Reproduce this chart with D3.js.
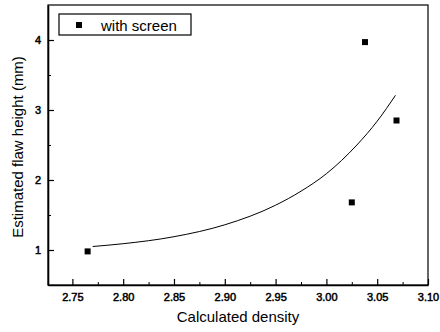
<!DOCTYPE html>
<html>
<head>
<meta charset="utf-8">
<script src="https://cdn.jsdelivr.net/npm/d3@7"></script>
<style>
  body { margin: 0; background: #fff; }
  svg { font-family: "Liberation Sans", Arial, sans-serif; }
</style>
</head>
<body>
<svg id="drawing_region"></svg>
<script>
// measured points
const density = [2.765, 3.025, 3.038, 3.069];
const flaw_height = [0.98, 1.68, 3.97, 2.85];

// fitted curve
const fit_x = [2.77, 2.80, 2.85, 2.90, 2.95, 2.975, 3.00, 3.015, 3.03, 3.05, 3.068];
const fit_y = [1.05, 1.09, 1.19, 1.36, 1.64, 1.84, 2.09, 2.28, 2.50, 2.84, 3.21];

const x_ticks = [2.75, 2.80, 2.85, 2.90, 2.95, 3.00, 3.05, 3.10];
const y_ticks = [1, 2, 3, 4];
const legend_label = 'with screen';

const config = {
  width: 440,
  height: 332,
  margin: {top: 5, right: 12, bottom: 47, left: 48}
};

const svg = d3.select('#drawing_region')
  .attr('width', config.width)
  .attr('height', config.height);

const chart_width = config.width - config.margin.left - config.margin.right;
const chart_height = config.height - config.margin.top - config.margin.bottom;

const chart = svg.append('g')
  .attr('transform', `translate(${config.margin.left}, ${config.margin.top})`);

const x_scale = d3.scaleLinear()
  .domain([2.726, 3.10])
  .range([0, chart_width]);

const y_scale = d3.scaleLinear()
  .domain([0.5, 4.5])
  .range([chart_height, 0]);

// minor ticks
const x_minor = d3.range(2.775, 3.1, 0.05);
const y_minor = [0.5, 1.5, 2.5, 3.5];

chart.append('g')
  .attr('transform', `translate(0, ${chart_height})`)
  .call(d3.axisBottom(x_scale).tickValues(x_minor).tickSize(-3).tickFormat(''))
  .call(g => g.select('.domain').remove());

chart.append('g')
  .call(d3.axisLeft(y_scale).tickValues(y_minor).tickSize(-3).tickFormat(''))
  .call(g => g.select('.domain').remove());

const x_axis = d3.axisBottom(x_scale)
  .tickValues(x_ticks).tickFormat(d3.format('.2f'))
  .tickSize(-6).tickSizeOuter(0).tickPadding(8);

const y_axis = d3.axisLeft(y_scale)
  .tickValues(y_ticks).tickFormat(d3.format('d'))
  .tickSize(-6).tickSizeOuter(0).tickPadding(7);

const xg = chart.append('g')
  .attr('transform', `translate(0, ${chart_height})`)
  .call(x_axis);

const yg = chart.append('g')
  .call(y_axis);

[xg, yg].forEach(g => {
  g.selectAll('text')
    .attr('font-size', 11)
    .attr('fill', '#000')
    .attr('stroke', '#000')
    .attr('stroke-width', 0.5)
    .attr('font-family', '"Liberation Sans", Arial, sans-serif');
  g.selectAll('line').attr('stroke', '#000').attr('stroke-width', 1.2);
  g.select('.domain').attr('stroke', '#000').attr('stroke-width', 1.6);
});

// frame
chart.append('rect')
  .attr('x', 0).attr('y', 0)
  .attr('width', chart_width).attr('height', chart_height)
  .attr('fill', 'none')
  .attr('stroke', '#000')
  .attr('stroke-width', 1.2);

// fitted curve
const fit = fit_x.map((x, i) => ({x: x, y: fit_y[i]}));
const line = d3.line()
  .x(d => x_scale(d.x))
  .y(d => y_scale(d.y))
  .curve(d3.curveMonotoneX);

chart.append('path')
  .attr('d', line(fit))
  .attr('fill', 'none')
  .attr('stroke', '#000')
  .attr('stroke-width', 1);

// points
const points = density.map((x, i) => ({x: x, y: flaw_height[i]}));
chart.selectAll('.pt')
  .data(points)
  .enter()
  .append('rect')
  .attr('class', 'pt')
  .attr('x', d => x_scale(d.x) - 3)
  .attr('y', d => y_scale(d.y) - 3)
  .attr('width', 6)
  .attr('height', 6)
  .attr('fill', '#000');

// legend
const legend = chart.append('g')
  .attr('transform', 'translate(11, 9)');
legend.append('rect')
  .attr('width', 132).attr('height', 21)
  .attr('fill', '#fff')
  .attr('stroke', '#000')
  .attr('stroke-width', 1.2);
legend.append('rect')
  .attr('x', 17).attr('y', 8)
  .attr('width', 6).attr('height', 6)
  .attr('fill', '#000');
legend.append('text')
  .attr('x', 42).attr('y', 17)
  .attr('font-size', 15)
  .text(legend_label);

// axis titles
svg.append('text')
  .attr('x', config.margin.left + chart_width / 2)
  .attr('y', 322)
  .attr('text-anchor', 'middle')
  .attr('font-size', 15)
  .text('Calculated density');

svg.append('text')
  .attr('transform', `translate(23, ${config.margin.top + chart_height / 2 + 2}) rotate(-90)`)
  .attr('text-anchor', 'middle')
  .attr('font-size', 15)
  .text('Estimated flaw height (mm)');
</script>
</body>
</html>
